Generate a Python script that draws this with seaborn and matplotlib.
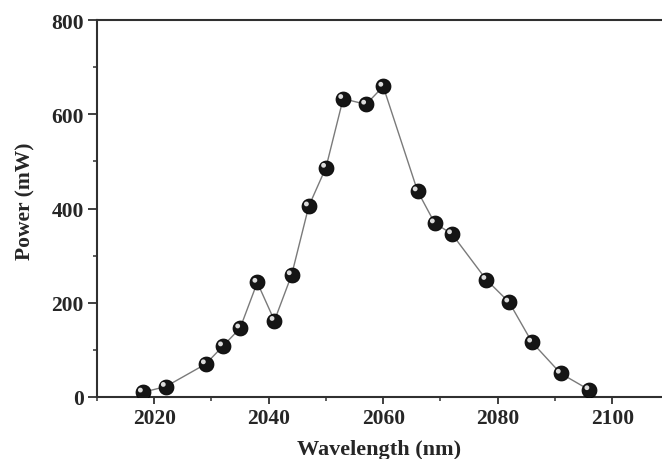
import matplotlib
matplotlib.use("Agg")
import matplotlib.pyplot as plt
import matplotlib.transforms as mtransforms
from matplotlib.ticker import MultipleLocator
import seaborn as sns
import pandas as pd

wavelength = [2018, 2022, 2029, 2032, 2035, 2038, 2041, 2044, 2047, 2050, 2053,
              2057, 2060, 2066, 2069, 2072, 2078, 2082, 2086, 2091, 2096]
power = [10, 22, 70, 108, 146, 243, 162, 259, 405, 487, 633,
         621, 659, 437, 369, 346, 249, 201, 116, 50, 15]
x_ticks = [2020, 2040, 2060, 2080, 2100]
y_ticks = [0, 200, 400, 600, 800]

df = pd.DataFrame({"Wavelength (nm)": wavelength, "Power (mW)": power})

sns.set_theme(style="white")
plt.rcParams["font.family"] = ["Liberation Serif", "DejaVu Serif"]

fig = plt.figure(figsize=(6.62, 4.60), dpi=100)
ax = fig.add_axes([0.1465, 0.1348, 0.8535, 0.8195])

sns.lineplot(data=df, x="Wavelength (nm)", y="Power (mW)", ax=ax,
             color="#7a7a7a", linewidth=1.0, zorder=2)
sns.scatterplot(data=df, x="Wavelength (nm)", y="Power (mW)", ax=ax,
                color="#151515", s=115, edgecolor="#000000", linewidth=0.6, zorder=3)
# sphere highlight
hl = mtransforms.offset_copy(ax.transData, fig=fig, x=-2.4, y=2.2, units="dots")
ax.scatter(df["Wavelength (nm)"], df["Power (mW)"], s=12, color="#dcdcdc",
           edgecolors="none", transform=hl, zorder=4)

ax.set_xlim(2010, 2108.7)
ax.set_ylim(0, 800)
ax.set_xticks(x_ticks)
ax.set_yticks(y_ticks)
ax.xaxis.set_minor_locator(MultipleLocator(10))
ax.yaxis.set_minor_locator(MultipleLocator(100))

for side in ["left", "bottom", "top"]:
    ax.spines[side].set_visible(True)
    ax.spines[side].set_color("#303030")
    ax.spines[side].set_linewidth(1.5)
ax.spines["right"].set_visible(False)

ax.tick_params(axis="both", which="major", direction="out", length=5, width=1.3,
               color="#303030", labelsize=15.5, pad=3, bottom=True, left=True)
ax.tick_params(axis="both", which="minor", direction="out", length=3, width=1.1,
               color="#303030", bottom=True, left=True)
ax.tick_params(axis="y", which="major", length=6.5, pad=3)
for lbl in ax.get_xticklabels() + ax.get_yticklabels():
    lbl.set_fontweight("bold")

ax.set_xlabel("Wavelength (nm)", fontsize=16, fontweight="bold", labelpad=8)
ax.set_ylabel("Power (mW)", fontsize=15.5, fontweight="bold")
ax.yaxis.set_label_coords(-0.108, 0.523)
ax.grid(False)

fig.savefig("out.png", dpi=100)
